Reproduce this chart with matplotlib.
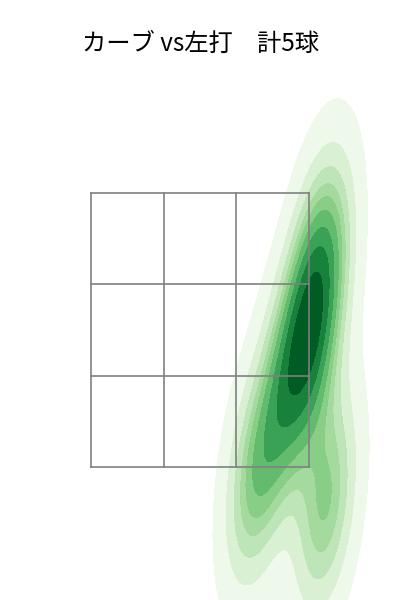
import matplotlib
matplotlib.use("Agg")
import matplotlib.pyplot as plt
import seaborn as sns

# pitch locations (ft): horizontal, height
plate_x = [0.874, 0.702, 0.950, 0.437, 0.983]
plate_z = [2.464, 2.135, 3.047, 1.420, 1.223]

title = "カーブ vs左打\u3000計5球"

# strike zone
zone_left, zone_right = -0.85, 0.85
zone_bot, zone_top = 1.5, 3.5

fig = plt.figure(figsize=(4, 6), dpi=100)
ax = fig.add_axes([0, 0, 1, 1])

sns.kdeplot(x=plate_x, y=plate_z, fill=True, cmap="Greens", ax=ax)

# 3x3 grid
xs = [zone_left + (zone_right - zone_left) * i / 3 for i in range(4)]
zs = [zone_bot + (zone_top - zone_bot) * i / 3 for i in range(4)]
for x in xs:
    ax.plot([x, x], [zone_bot, zone_top], color="gray", lw=1.2, zorder=5)
for z in zs:
    ax.plot([zone_left, zone_right], [z, z], color="gray", lw=1.2, zorder=5)

ax.set_xlim(-1.56, 1.56)
ax.set_ylim(0.529, 4.909)
ax.axis("off")

fig.text(0.5, 0.927, title, ha="center", va="center", fontsize=17.5,
         family=["Noto Sans CJK JP", "DejaVu Sans"])

fig.savefig("out.png", dpi=100)
